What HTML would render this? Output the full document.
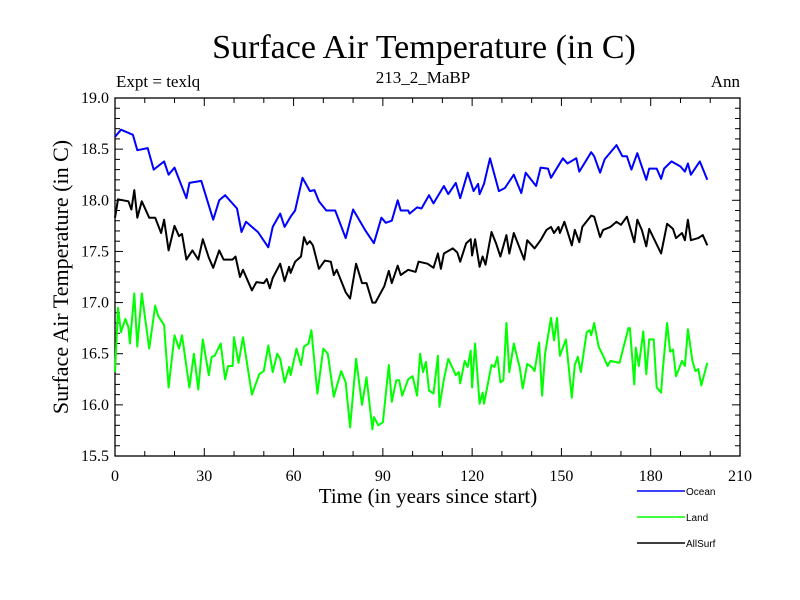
<!DOCTYPE html>
<html><head><meta charset="utf-8"><style>
body{margin:0;background:#fff;}
svg{display:block;font-family:"Liberation Serif",serif;}
</style></head><body>
<svg id="chart" width="800" height="600" viewBox="0 0 800 600" xmlns="http://www.w3.org/2000/svg">
<rect width="800" height="600" fill="#fff"/>
<text x="424" y="58" font-size="34" text-anchor="middle">Surface Air Temperature (in C)</text>
<text x="423" y="83" font-size="17" text-anchor="middle">213_2_MaBP</text>
<text x="116" y="87" font-size="17">Expt = texlq</text>
<text x="740" y="87" font-size="17" text-anchor="end">Ann</text>
<text transform="translate(68,277) rotate(-90)" font-size="22" text-anchor="middle">Surface Air Temperature (in C)</text>
<text x="428" y="503" font-size="21" text-anchor="middle">Time (in years since start)</text>
<g id="axes"></g>
<g id="series"></g>
<g id="legend"></g>
</svg>
<script>
const xTicks=[0,30,60,90,120,150,180,210];
const yTicks=[15.5,16.0,16.5,17.0,17.5,18.0,18.5,19.0];
const seriesNames=["Ocean","Land","AllSurf"];
const oceanYears=[0,2,6,7.5,11,13,16.5,18,20,24,25,29,33,35,37,41,42.5,44,48,51.5,53,55.5,57,59,60.5,63,65.5,67,68.5,71,74,77.5,80,84,87,89.5,91,93,95,96,98.5,99,101.5,103,105.5,107,110.5,112,114.5,116,118.5,120.5,122,122.5,124,126,129,131,134,136.5,138,141.5,143,145.5,146.5,150.5,152,155,156,160,161,163,164.5,168.5,170.5,172,173.5,175.5,178.5,179.5,182,183.5,184.5,187,190,191.5,192.5,193.5,196.5,199];
const oceanValues=[18.62,18.69,18.64,18.49,18.51,18.30,18.38,18.25,18.32,18.02,18.17,18.19,17.81,18.00,18.05,17.92,17.69,17.79,17.69,17.54,17.74,17.87,17.74,17.84,17.90,18.22,18.09,18.10,17.99,17.90,17.90,17.63,17.91,17.71,17.58,17.83,17.78,17.80,18.00,17.90,17.90,17.87,17.93,17.92,18.05,17.97,18.14,18.06,18.17,18.02,18.27,18.09,18.16,18.06,18.16,18.41,18.09,18.12,18.25,18.07,18.27,18.14,18.32,18.31,18.22,18.41,18.36,18.41,18.28,18.47,18.43,18.27,18.40,18.54,18.43,18.43,18.30,18.46,18.20,18.31,18.31,18.21,18.31,18.38,18.33,18.28,18.36,18.25,18.38,18.20];
const allYears=[0,1,4.5,5.5,6.5,7.5,9,11.5,13.5,15.5,16.5,18,20,21.5,22.5,24,26,28,29.5,31.5,33,35,36.5,39.5,40.5,42,43,46,47.5,50,51,52,53,55.5,57,58.5,59,60.5,62.5,63.5,64.5,65.5,66.5,68.5,70.5,72.5,73.5,74.5,77.5,79,81,83,84.5,86.5,87.5,90.5,92,93,95,96,98.5,101,102,105,107,108.5,109.5,110.5,113.5,115,116,118,119.5,120,121,122.5,123.5,124.5,126.5,128,129.5,131.5,132.5,134,137.5,138.5,141,143,145,146.5,147.5,149,149.5,151,153.5,154.5,156,157,160,161,163,164,166.5,168.5,170,172,174.5,175.5,177,178.5,179.5,183.5,185.5,187.5,188.5,190.5,191.5,192.5,193.5,196,197.5,199];
const allValues=[17.83,18.01,17.99,17.91,18.10,17.83,17.99,17.83,17.83,17.68,17.81,17.51,17.75,17.65,17.67,17.42,17.51,17.42,17.62,17.44,17.34,17.51,17.42,17.42,17.45,17.25,17.32,17.12,17.20,17.19,17.23,17.14,17.24,17.38,17.21,17.35,17.29,17.40,17.45,17.64,17.57,17.60,17.56,17.33,17.41,17.40,17.27,17.32,17.10,17.04,17.38,17.19,17.19,17.00,17.00,17.16,17.31,17.19,17.36,17.27,17.32,17.30,17.40,17.38,17.34,17.48,17.33,17.48,17.53,17.49,17.40,17.58,17.62,17.46,17.62,17.35,17.45,17.37,17.69,17.58,17.45,17.66,17.48,17.68,17.42,17.61,17.53,17.61,17.71,17.74,17.68,17.74,17.68,17.79,17.56,17.71,17.59,17.74,17.85,17.84,17.64,17.71,17.74,17.79,17.76,17.84,17.59,17.81,17.71,17.55,17.72,17.48,17.77,17.72,17.63,17.68,17.61,17.81,17.61,17.63,17.66,17.56];
const landYears=[0,1,2,3.5,4.5,5,6.5,7.5,9,11.5,13.5,14.5,16.5,18,20,21.5,22.5,25,26.5,28,29.5,31.5,32.5,33.5,35.5,37,38,39.5,40,41.5,43,46,48.5,50,51.5,53,54.5,55.5,57,58.5,59,61,62.5,63.5,65,66,68,70,71.5,73.5,76,77.5,79,81,83,84.5,86.5,87,88.5,90,92,93,94.5,95.5,96.5,98.5,100,101.5,102.5,103.5,104.5,105.5,107,108.5,109,110.5,112,114.5,115.5,116,117.5,118.5,119.5,120,121,122.5,123.5,124,126.5,127.5,128.5,129.5,130.5,131.5,132.5,134,136,137,138.5,140,141,142.5,143.5,144.5,146.5,147.5,148.5,149.5,151.5,153.5,154.5,155.5,156.5,158.5,159.5,160,161,162.5,164,165.5,166.5,169.5,172.5,173,174.5,175,176,177.5,178.5,179.5,181,182,183.5,184,185.5,186.5,187.5,188.5,190.5,191.5,192.5,194,195,196,197,199];
const landValues=[16.32,16.95,16.71,16.84,16.76,16.60,17.09,16.57,17.09,16.55,16.97,16.87,16.78,16.17,16.68,16.55,16.68,16.17,16.50,16.15,16.64,16.29,16.47,16.48,16.60,16.25,16.38,16.38,16.66,16.41,16.66,16.10,16.30,16.33,16.58,16.32,16.50,16.45,16.22,16.37,16.29,16.55,16.39,16.57,16.60,16.73,16.11,16.55,16.50,16.08,16.33,16.22,15.78,16.45,16.00,16.27,15.76,15.88,15.80,15.83,16.39,16.03,16.24,16.24,16.09,16.25,16.28,16.09,16.50,16.32,16.42,16.14,16.11,16.48,15.98,16.25,16.45,16.29,16.32,16.21,16.43,16.37,16.53,16.17,16.60,16.01,16.12,16.01,16.39,16.37,16.47,16.22,16.24,16.80,16.32,16.60,16.36,16.16,16.40,16.37,16.33,16.61,16.09,16.50,16.85,16.63,16.85,16.48,16.64,16.07,16.39,16.47,16.32,16.71,16.73,16.68,16.80,16.57,16.48,16.38,16.43,16.41,16.75,16.75,16.20,16.56,16.38,16.72,16.30,16.64,16.64,16.17,16.12,16.32,16.80,16.52,16.54,16.28,16.43,16.38,16.74,16.43,16.33,16.35,16.19,16.41];

const NS="http://www.w3.org/2000/svg";
const X0=115,X1=740,Y0=456,Y1=98;
const xMin=0,xMax=210,yMin=15.5,yMax=19.0;
function sx(v){return X0+(v-xMin)/(xMax-xMin)*(X1-X0);}
function sy(v){return Y0-(v-yMin)/(yMax-yMin)*(Y0-Y1);}
function mk(tag,attrs,parent){const e=document.createElementNS(NS,tag);for(const k in attrs)e.setAttribute(k,attrs[k]);parent.appendChild(e);return e;}
const axes=document.getElementById('axes');
const frame=mk('rect',{x:X0,y:Y1,width:X1-X0,height:Y0-Y1,fill:'none',stroke:'#000','stroke-width':1.3},axes);


for(let v=xMin;v<=xMax;v+=10){
  const major=(v%30===0);const L=major?8:5;
  const t=mk('line',{x1:sx(v),x2:sx(v),y1:Y0,y2:Y0-L,stroke:'#000','stroke-width':1},axes);
  
  
  const t2=mk('line',{x1:sx(v),x2:sx(v),y1:Y1,y2:Y1+L,stroke:'#000','stroke-width':1},axes);
  
  
}
xTicks.forEach(v=>{
  const t=mk('text',{x:sx(v),y:Y0+25,'font-size':16,'text-anchor':'middle'},axes);
  t.textContent=v;
  
  
});
for(let i=0;i<=35;i++){
  const v=yMin+i*0.1;const major=(i%5===0);const L=major?8:5;
  const t=mk('line',{x1:X0,x2:X0+L,y1:sy(v),y2:sy(v),stroke:'#000','stroke-width':1},axes);
  
  
  const t2=mk('line',{x1:X1,x2:X1-L,y1:sy(v),y2:sy(v),stroke:'#000','stroke-width':1},axes);
  
  
}
yTicks.forEach(v=>{
  const t=mk('text',{x:X0-6,y:sy(v)+5,'font-size':16,'text-anchor':'end'},axes);
  t.textContent=v.toFixed(1);
  
  
});
const ser=document.getElementById('series');
const defs=[[oceanYears,oceanValues,'#0000ff','ocean-line'],[landYears,landValues,'#00ff00','land-line'],[allYears,allValues,'#000000','allsurf-line']];
defs.forEach(d=>{
  const pts=d[0].map((yr,i)=>sx(yr).toFixed(1)+','+sy(d[1][i]).toFixed(1)).join(' ');
  const p=mk('polyline',{points:pts,fill:'none',stroke:d[2],'stroke-width':2,'stroke-linejoin':'round'},ser);
  
  
});
const leg=document.getElementById('legend');
const legColors=['#0000ff','#00ff00','#000000'];
seriesNames.forEach((n,i)=>{
  const y=491+i*26;
  const l=mk('line',{x1:637,x2:685,y1:y,y2:y,stroke:legColors[i],'stroke-width':1.5},leg);
  
  
  const t=mk('text',{x:686,y:y+4,'font-size':10,'font-family':'Liberation Sans, sans-serif'},leg);
  t.textContent=n;
  
  
});
</script>
</body></html>
